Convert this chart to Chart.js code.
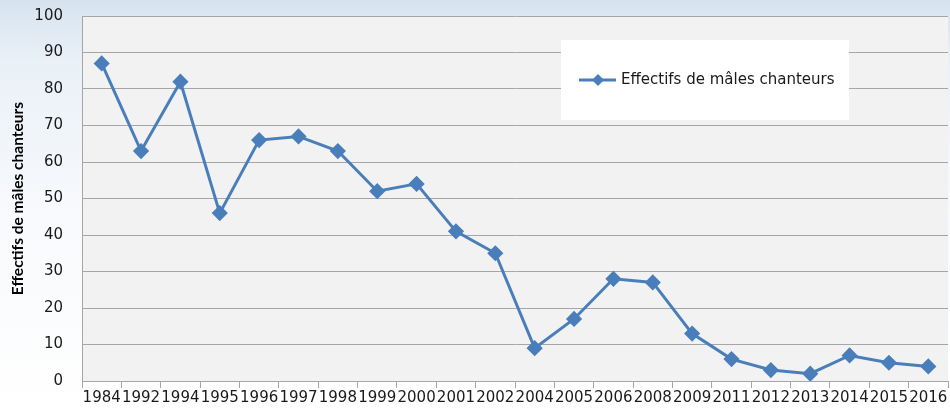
<!DOCTYPE html>
<html>
<head>
<meta charset="utf-8">
<script src="https://cdn.jsdelivr.net/npm/chart.js@4.4.1/dist/chart.umd.min.js"></script>
<style>
  html, body { margin: 0; padding: 0; overflow: hidden; width: 950px; height: 408px; }
  body {
    background: linear-gradient(180deg, #d6e3ef 0px, #e9f0f7 60px, #f7f9fc 200px, #ffffff 408px);
  }
  #wrap { position: relative; width: 950px; height: 408px; }
  canvas { display: block; }
</style>
</head>
<body>
<div id="wrap"><canvas id="chanteursChart" width="950" height="408"></canvas></div>
<script>
// Données
const annees = ['1984', '1992', '1994', '1995', '1996', '1997', '1998', '1999', '2000', '2001', '2002',
                '2004', '2005', '2006', '2008', '2009', '2011', '2012', '2013', '2014', '2015', '2016'];
const effectifs = [87, 63, 82, 46, 66, 67, 63, 52, 54, 41, 35, 9, 17, 28, 27, 13, 6, 3, 2, 7, 5, 4];
const yTicks = [0, 10, 20, 30, 40, 50, 60, 70, 80, 90, 100];
const serieLabel = 'Effectifs de mâles chanteurs';

const bleu = '#4a7ebb';
const gris = '#a6a6a6';

// Fond de la zone de tracé + légende encadrée
const fondPlugin = {
    id: 'fond',
    beforeDraw(chart) {
        const { ctx, chartArea: a } = chart;
        ctx.save();
        ctx.fillStyle = '#f2f2f2';
        ctx.fillRect(a.left, a.top, a.right - a.left, a.bottom - a.top);
        ctx.restore();
    },
    afterDatasetsDraw(chart) {
        const ctx = chart.ctx;
        ctx.save();
        ctx.fillStyle = '#ffffff';
        ctx.fillRect(561, 40, 288, 80);
        // symbole de la série
        ctx.strokeStyle = bleu;
        ctx.lineWidth = 3;
        ctx.beginPath();
        ctx.moveTo(579, 80);
        ctx.lineTo(616, 80);
        ctx.stroke();
        ctx.fillStyle = bleu;
        ctx.beginPath();
        ctx.moveTo(598, 74);
        ctx.lineTo(604, 80);
        ctx.lineTo(598, 86);
        ctx.lineTo(592, 80);
        ctx.closePath();
        ctx.fill();
        ctx.fillStyle = '#1a1a1a';
        ctx.font = '15px "DejaVu Sans"';
        ctx.textBaseline = 'middle';
        ctx.fillText(serieLabel, 621, 80);
        ctx.restore();
    }
};

new Chart(document.getElementById('chanteursChart').getContext('2d'), {
    type: 'line',
    data: {
        labels: annees,
        datasets: [{
            label: serieLabel,
            data: effectifs,
            borderColor: bleu,
            backgroundColor: bleu,
            borderWidth: 3,
            pointStyle: 'rectRot',
            pointRadius: 6,
            pointHoverRadius: 6,
            pointBackgroundColor: bleu,
            pointBorderColor: bleu,
            tension: 0,
            fill: false
        }]
    },
    options: {
        responsive: false,
        animation: false,
        layout: { autoPadding: false, padding: { top: 16, right: 2, left: 0, bottom: 0 } },
        scales: {
            x: {
                type: 'category',
                offset: true,
                grid: {
                    offset: true,
                    drawOnChartArea: false,
                    color: gris,
                    tickLength: 7
                },
                border: { color: gris },
                ticks: {
                    color: '#1a1a1a',
                    font: { family: 'DejaVu Sans', size: 15 },
                    padding: 1,
                    maxRotation: 0,
                    autoSkip: false
                },
                afterFit(scale) {
                    scale.height = 27;
                    scale.paddingLeft = 0;
                    scale.paddingRight = 0;
                }
            },
            y: {
                min: 0,
                max: 100,
                afterBuildTicks(scale) { scale.ticks = yTicks.map(v => ({ value: v })); },
                grid: { color: gris, drawTicks: false },
                border: { color: gris },
                ticks: {
                    color: '#1a1a1a',
                    font: { family: 'DejaVu Sans', size: 15 },
                    padding: 19
                },
                title: {
                    display: true,
                    text: serieLabel,
                    color: '#000000',
                    font: { family: 'Lato', size: 15.5, weight: 'bold', lineHeight: 1.1 },
                    padding: { top: 9, bottom: 0 }
                },
                afterFit(scale) {
                    scale.width = 82;
                    scale.paddingTop = 0;
                    scale.paddingBottom = 0;
                }
            }
        },
        plugins: {
            legend: { display: false },
            tooltip: { enabled: false }
        }
    },
    plugins: [fondPlugin]
});
</script>
</body>
</html>
